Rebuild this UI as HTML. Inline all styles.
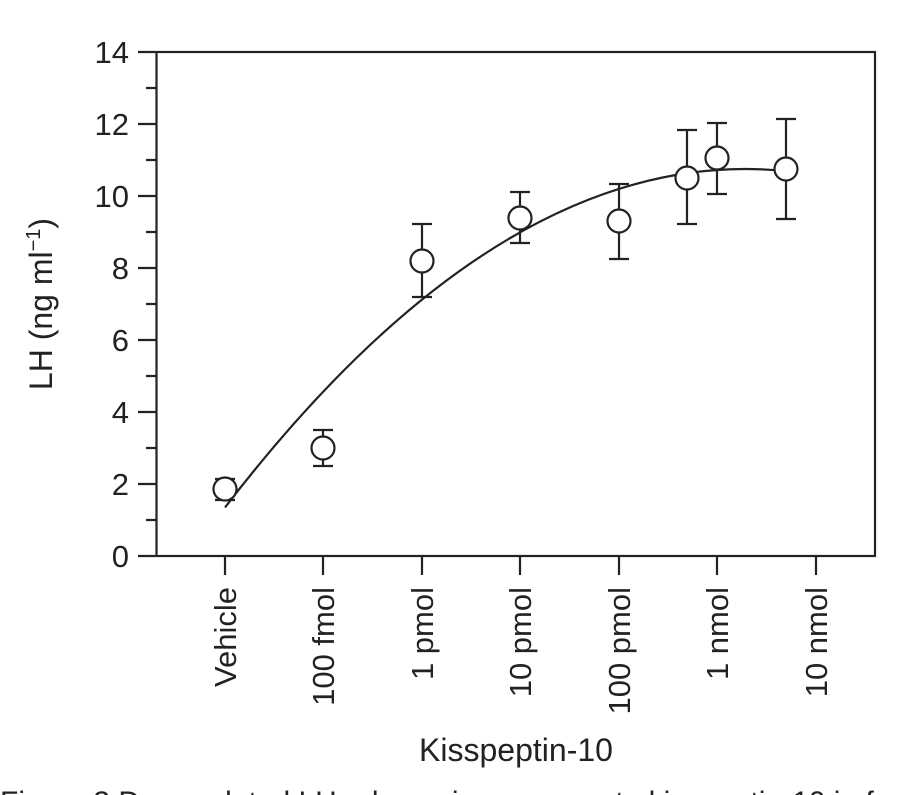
<!DOCTYPE html>
<html><head><meta charset="utf-8"><style>
html,body{margin:0;padding:0;background:#fff;width:915px;height:795px;overflow:hidden}
svg{display:block}
text{font-family:"Liberation Sans",Arial,sans-serif;fill:#222}
</style></head><body>
<svg width="915" height="795" viewBox="0 0 915 795" xmlns="http://www.w3.org/2000/svg">
<g stroke="#222" stroke-width="2.2" fill="none">
<rect x="156.5" y="52" width="718.5" height="504"/>
<path d="M138 52H156M146 88H156M138 124H156M146 160H156M138 196H156M146 232H156M138 268H156M146 304H156M138 340H156M146 376H156M138 412H156M146 448H156M138 484H156M146 520H156M138 556H156"/>
<path d="M225 556V575M323 556V575M422 556V575M520 556V575M619 556V575M717 556V575M816 556V575"/>
<path d="M225 507.4 Q505.5 142.4 786 171.1"/>
<path d="M225 479V500M215 479H235M215 500H235"/>
<path d="M323 430V466M313 430H333M313 466H333"/>
<path d="M422 224V297M412 224H432M412 297H432"/>
<path d="M520 192V243M510 192H530M510 243H530"/>
<path d="M619 184V259M609 184H629M609 259H629"/>
<path d="M687 130V224M677 130H697M677 224H697"/>
<path d="M717 123V194M707 123H727M707 194H727"/>
<path d="M786 119V219M776 119H796M776 219H796"/>
</g>
<g stroke="#222" stroke-width="2.2" fill="#fff">
<circle cx="225" cy="489" r="11.5"/>
<circle cx="323" cy="448" r="11.5"/>
<circle cx="422" cy="261" r="11.5"/>
<circle cx="520" cy="218" r="11.5"/>
<circle cx="619" cy="221" r="11.5"/>
<circle cx="687" cy="178" r="11.5"/>
<circle cx="717" cy="158" r="11.5"/>
<circle cx="786" cy="169" r="11.5"/>
</g>
<g font-size="31" text-anchor="end">
<text x="129" y="63">14</text>
<text x="129" y="135">12</text>
<text x="129" y="207">10</text>
<text x="129" y="279">8</text>
<text x="129" y="351">6</text>
<text x="129" y="423">4</text>
<text x="129" y="495">2</text>
<text x="129" y="567">0</text>
</g>
<g font-size="31" text-anchor="end">
<text transform="translate(236,587) rotate(-90)">Vehicle</text>
<text transform="translate(334,587) rotate(-90)">100 fmol</text>
<text transform="translate(433,587) rotate(-90)">1 pmol</text>
<text transform="translate(531,587) rotate(-90)">10 pmol</text>
<text transform="translate(630,587) rotate(-90)">100 pmol</text>
<text transform="translate(728,587) rotate(-90)">1 nmol</text>
<text transform="translate(827,587) rotate(-90)">10 nmol</text>
</g>
<text transform="translate(52,304) rotate(-90)" font-size="32" text-anchor="middle">LH (ng ml<tspan font-size="20" dy="-12">−1</tspan><tspan dy="12">)</tspan></text>
<text x="516" y="761" font-size="32" text-anchor="middle">Kisspeptin-10</text>
<text x="0" y="812" font-size="30">Figure 3    Dose-related LH release in response to kisspeptin-10 in female</text>
</svg>
</body></html>
